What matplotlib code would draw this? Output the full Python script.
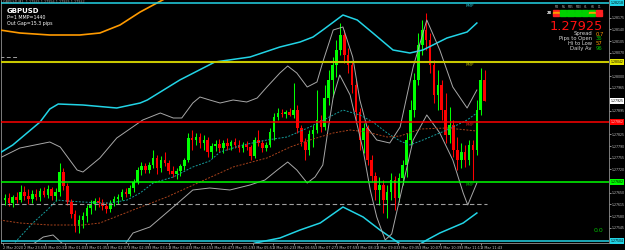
import matplotlib
matplotlib.use("Agg")
import matplotlib.pyplot as plt
import matplotlib.transforms as mtransforms
import numpy as np

# ---------------- data ----------------
symbol = "GBPUSD"
bar_minutes = 6            # candles aggregated to 6 minutes, first bar at 2 Mar 23:27
time_label_step = 32       # minutes between time labels
time_labels = ["2 Mar 2020", "2 Mar 23:59", "3 Mar 00:31", "3 Mar 01:03", "3 Mar 01:35",
               "3 Mar 02:07", "3 Mar 02:39", "3 Mar 03:11", "3 Mar 03:43", "3 Mar 04:15",
               "3 Mar 04:47", "3 Mar 05:19", "3 Mar 05:51", "3 Mar 06:23", "3 Mar 06:55",
               "3 Mar 07:27", "3 Mar 07:59", "3 Mar 08:31", "3 Mar 09:03", "3 Mar 09:35",
               "3 Mar 10:07", "3 Mar 10:39", "3 Mar 11:11", "3 Mar 11:43"]

opens = [1.27628, 1.27634, 1.27619, 1.27637, 1.27628, 1.27652, 1.27640, 1.27631, 1.27646, 1.27637,
         1.27655, 1.27643, 1.27661, 1.27640, 1.27652, 1.27712, 1.27670, 1.27622, 1.27586, 1.27550,
         1.27568, 1.27580, 1.27604, 1.27616, 1.27625, 1.27619, 1.27610, 1.27601, 1.27619, 1.27631,
         1.27637, 1.27652, 1.27646, 1.27664, 1.27682, 1.27718, 1.27730, 1.27718, 1.27733, 1.27754,
         1.27724, 1.27748, 1.27739, 1.27715, 1.27706, 1.27715, 1.27730, 1.27748, 1.27814, 1.27808,
         1.27817, 1.27799, 1.27808, 1.27772, 1.27790, 1.27796, 1.27784, 1.27799, 1.27790, 1.27802,
         1.27793, 1.27784, 1.27793, 1.27787, 1.27760, 1.27808, 1.27799, 1.27784, 1.27793, 1.27832,
         1.27877, 1.27889, 1.27886, 1.27892, 1.27883, 1.27898, 1.27844, 1.27802, 1.27778, 1.27826,
         1.27838, 1.27868, 1.27847, 1.27934, 1.27988, 1.28033, 1.28078, 1.28123, 1.28063, 1.28033,
         1.27973, 1.27892, 1.27808, 1.27844, 1.27748, 1.27700, 1.27658, 1.27673, 1.27628, 1.27652,
         1.27688, 1.27634, 1.27694, 1.27733, 1.27808, 1.27898, 1.27988, 1.28093, 1.28138, 1.28108,
         1.28033, 1.27943, 1.27973, 1.27898, 1.27823, 1.27853, 1.27778, 1.27748, 1.27772, 1.27748,
         1.27793, 1.27778, 1.27898, 1.27988]
highs = [1.27646, 1.27649, 1.27643, 1.27652, 1.27673, 1.27670, 1.27661, 1.27658, 1.27661, 1.27664,
         1.27667, 1.27673, 1.27667, 1.27664, 1.27739, 1.27724, 1.27679, 1.27631, 1.27598, 1.27583,
         1.27592, 1.27613, 1.27628, 1.27634, 1.27637, 1.27631, 1.27622, 1.27628, 1.27640, 1.27646,
         1.27661, 1.27664, 1.27673, 1.27691, 1.27727, 1.27742, 1.27739, 1.27742, 1.27778, 1.27763,
         1.27760, 1.27772, 1.27748, 1.27730, 1.27724, 1.27736, 1.27754, 1.27829, 1.27838, 1.27829,
         1.27829, 1.27823, 1.27817, 1.27799, 1.27808, 1.27811, 1.27808, 1.27814, 1.27808, 1.27814,
         1.27808, 1.27802, 1.27805, 1.27793, 1.27817, 1.27838, 1.27808, 1.27802, 1.27844, 1.27889,
         1.27904, 1.27901, 1.27898, 1.27904, 1.27979, 1.27913, 1.27853, 1.27814, 1.27838, 1.27853,
         1.27958, 1.27883, 1.27973, 1.28018, 1.28057, 1.28108, 1.28159, 1.28138, 1.28084, 1.28042,
         1.27988, 1.27904, 1.27859, 1.27853, 1.27763, 1.27712, 1.27697, 1.27688, 1.27673, 1.27709,
         1.27700, 1.27709, 1.27748, 1.27829, 1.27928, 1.28009, 1.28129, 1.28168, 1.28189, 1.28129,
         1.28048, 1.28018, 1.27988, 1.27949, 1.27907, 1.27868, 1.27817, 1.27799, 1.27793, 1.27808,
         1.27808, 1.27928, 1.28024, 1.28018]
lows = [1.27613, 1.27610, 1.27607, 1.27619, 1.27622, 1.27628, 1.27616, 1.27619, 1.27628, 1.27625,
        1.27637, 1.27634, 1.27628, 1.27625, 1.27640, 1.27658, 1.27613, 1.27574, 1.27532, 1.27529,
        1.27544, 1.27562, 1.27586, 1.27598, 1.27607, 1.27598, 1.27589, 1.27592, 1.27610, 1.27616,
        1.27628, 1.27637, 1.27640, 1.27652, 1.27676, 1.27703, 1.27709, 1.27709, 1.27724, 1.27706,
        1.27712, 1.27730, 1.27706, 1.27697, 1.27691, 1.27700, 1.27718, 1.27742, 1.27778, 1.27793,
        1.27784, 1.27778, 1.27757, 1.27754, 1.27775, 1.27772, 1.27769, 1.27778, 1.27778, 1.27784,
        1.27772, 1.27772, 1.27778, 1.27748, 1.27754, 1.27790, 1.27772, 1.27775, 1.27787, 1.27808,
        1.27868, 1.27877, 1.27874, 1.27880, 1.27874, 1.27829, 1.27790, 1.27748, 1.27763, 1.27787,
        1.27829, 1.27832, 1.27838, 1.27913, 1.27937, 1.27997, 1.28063, 1.28039, 1.28009, 1.27949,
        1.27868, 1.27778, 1.27769, 1.27733, 1.27682, 1.27628, 1.27613, 1.27589, 1.27574, 1.27628,
        1.27598, 1.27622, 1.27673, 1.27697, 1.27793, 1.27877, 1.27973, 1.28063, 1.28078, 1.28009,
        1.27919, 1.27898, 1.27868, 1.27799, 1.27799, 1.27757, 1.27718, 1.27724, 1.27727, 1.27733,
        1.27688, 1.27763, 1.27883, 1.27925]
closes = [1.27634, 1.27619, 1.27637, 1.27628, 1.27652, 1.27640, 1.27631, 1.27646, 1.27637, 1.27655,
          1.27643, 1.27661, 1.27640, 1.27652, 1.27712, 1.27670, 1.27622, 1.27586, 1.27550, 1.27568,
          1.27580, 1.27604, 1.27616, 1.27625, 1.27619, 1.27610, 1.27601, 1.27619, 1.27631, 1.27637,
          1.27652, 1.27646, 1.27664, 1.27682, 1.27718, 1.27730, 1.27718, 1.27733, 1.27754, 1.27724,
          1.27748, 1.27739, 1.27715, 1.27706, 1.27715, 1.27730, 1.27748, 1.27814, 1.27808, 1.27817,
          1.27799, 1.27808, 1.27772, 1.27790, 1.27796, 1.27784, 1.27799, 1.27790, 1.27802, 1.27793,
          1.27784, 1.27793, 1.27787, 1.27760, 1.27808, 1.27799, 1.27784, 1.27793, 1.27832, 1.27877,
          1.27889, 1.27886, 1.27892, 1.27883, 1.27898, 1.27844, 1.27802, 1.27778, 1.27826, 1.27838,
          1.27868, 1.27847, 1.27934, 1.27988, 1.28033, 1.28078, 1.28123, 1.28063, 1.28033, 1.27973,
          1.27892, 1.27808, 1.27844, 1.27748, 1.27700, 1.27658, 1.27673, 1.27628, 1.27652, 1.27688,
          1.27634, 1.27694, 1.27733, 1.27808, 1.27898, 1.27988, 1.28093, 1.28138, 1.28108, 1.28033,
          1.27943, 1.27973, 1.27898, 1.27823, 1.27853, 1.27778, 1.27748, 1.27772, 1.27748, 1.27793,
          1.27778, 1.27898, 1.27988, 1.27925]

# indicator lines: minutes since first bar, price
orange_t = [-5, 26, 72, 118, 149, 180, 211, 234, 257]
orange_p = [1.28138, 1.28129, 1.28123, 1.28123, 1.28129, 1.28153, 1.28192, 1.28216, 1.28240]

env_up_t = [-5, 15, 57, 72, 85, 123, 175, 211, 222, 272, 326, 380, 426, 457, 477, 492, 523,
            545, 569, 600, 626, 646, 683, 714, 729]
env_up_p = [1.27769, 1.27793, 1.27862, 1.27901, 1.27916, 1.27913, 1.27904, 1.27919, 1.27928,
            1.27988, 1.28042, 1.28057, 1.28087, 1.28102, 1.28117, 1.28138, 1.28183, 1.28168,
            1.28129, 1.28078, 1.28069, 1.28078, 1.28114, 1.28132, 1.28159]
env_dn_t = [365, 388, 426, 457, 488, 523, 554, 580, 600, 618, 634, 652, 672, 708, 729]
env_dn_p = [1.27484, 1.27499, 1.27514, 1.27538, 1.27559, 1.27607, 1.27577, 1.27538, 1.27511,
            1.27487, 1.27487, 1.27508, 1.27529, 1.27559, 1.27589]

band_up_t = [-5, 26, 72, 88, 114, 123, 149, 175, 215, 242, 262, 275, 292, 303, 318, 334, 354,
             375, 391, 406, 426, 438, 452, 468, 483, 492, 508, 523, 538, 549, 560, 575, 595,
             611, 631, 652, 672, 692, 714, 729]
band_up_p = [1.27754, 1.27784, 1.27802, 1.27787, 1.27718, 1.27712, 1.27754, 1.27814, 1.27868,
             1.27889, 1.27874, 1.27874, 1.27919, 1.27937, 1.27928, 1.27919, 1.27928, 1.27922,
             1.27934, 1.27967, 1.28009, 1.28030, 1.28009, 1.27967, 1.27982, 1.28042, 1.28138,
             1.28147, 1.28057, 1.27928, 1.27847, 1.27808, 1.27799, 1.27847, 1.28027, 1.28168,
             1.28078, 1.27967, 1.27904, 1.27958]
band_dn_t = [-5, 42, 62, 77, 92, 126, 172, 188, 200, 226, 262, 292, 318, 349, 380, 403, 422,
             438, 452, 468, 480, 492, 500, 508, 518, 534, 554, 565, 575, 588, 598, 611, 631,
             652, 672, 692, 708, 715, 729]
band_dn_p = [1.27472, 1.27490, 1.27517, 1.27523, 1.27496, 1.27472, 1.27478, 1.27496, 1.27529,
             1.27547, 1.27607, 1.27658, 1.27664, 1.27658, 1.27673, 1.27688, 1.27718, 1.27742,
             1.27718, 1.27679, 1.27697, 1.27733, 1.27838, 1.27937, 1.28003, 1.27943, 1.27778,
             1.27658, 1.27577, 1.27508, 1.27526, 1.27637, 1.27808, 1.27883, 1.27829, 1.27748,
             1.27649, 1.27613, 1.27679]

ma_fast_t = [15, 26, 46, 68, 83, 98, 149, 165, 191, 211, 231, 262, 292, 318, 334, 369, 406,
             437, 472, 508, 523, 549, 569, 591, 611, 626, 646, 683, 714, 729]
ma_fast_p = [1.27493, 1.27517, 1.27559, 1.27598, 1.27628, 1.27625, 1.27619, 1.27619, 1.27628,
             1.27649, 1.27679, 1.27697, 1.27727, 1.27745, 1.27772, 1.27793, 1.27808, 1.27817,
             1.27847, 1.27883, 1.27898, 1.27883, 1.27862, 1.27829, 1.27805, 1.27793, 1.27808,
             1.27838, 1.27868, 1.27889]
ma_slow_t = [-5, 26, 72, 123, 149, 200, 252, 303, 354, 406, 442, 472, 508, 534, 560, 591, 611,
             642, 683, 729]
ma_slow_p = [1.27568, 1.27559, 1.27553, 1.27553, 1.27559, 1.27598, 1.27637, 1.27682, 1.27727,
             1.27754, 1.27787, 1.27808, 1.27829, 1.27838, 1.27832, 1.27817, 1.27820, 1.27841,
             1.27844, 1.27835]

level_top = 1.28218      # cyan
level_r = 1.28042        # yellow
level_pivot = 1.27862    # red
level_s = 1.27682        # green
level_bottom = 1.27504   # cyan
level_dash = 1.27616     # grey dashed
level_dash_end = 745
short_dash_price = 1.28057
bid = 1.27925

panel_labels = ["Spread", "Pips to Open", "Hi to Low", "Daily Av"]
panel_values = ["0.7", "36", "57", "96"]
panel_value_colors = ["#ff9900", "#00c800", "#ff9900", "#00c800"]
tf_names = ["M1", "M5", "M15", "M30", "H1", "H4", "D1"]
tf_colors = [["#ff2020", "#ff9900", "#ff2020"], ["#00d000"] * 3, ["#00d000"] * 3,
             ["#00d000"] * 3, ["#00d000"] * 3, ["#00d000", "#ff9900", "#00d000"],
             ["#ff2020"] * 3]

# ---------------- figure ----------------
W, H = 625, 250
fig = plt.figure(figsize=(W / 100, H / 100), dpi=100, facecolor="black")
ax_left, ax_right, ax_bottom = 1, 609, 243
ax = fig.add_axes([ax_left / W, (H - ax_bottom) / H, (ax_right - ax_left) / W, ax_bottom / H])
ax.set_facecolor("black")
px_per_min = 0.65
x0_px = 3
ax.set_xlim((ax_left - x0_px) / px_per_min, (ax_right - x0_px) / px_per_min)
ax.set_ylim(1.27499, 1.28228)

opens_a, highs_a, lows_a, closes_a = map(np.array, (opens, highs, lows, closes))
xc = np.arange(len(opens_a)) * bar_minutes + bar_minutes / 2
cols = np.where(closes_a >= opens_a, "#00ff00", "#ff0000")
ax.vlines(xc, lows_a, highs_a, colors=cols, linewidth=0.75, zorder=3)
ax.bar(xc, np.abs(closes_a - opens_a), bottom=np.minimum(opens_a, closes_a), width=4.0,
       color=cols, linewidth=0, zorder=3)

# indicators
ax.plot(orange_t, orange_p, color="#ff9a00", lw=1.2, zorder=4)
ax.plot(env_up_t, env_up_p, color="#22d4e6", lw=1.1, zorder=4)
ax.plot(env_dn_t, env_dn_p, color="#22d4e6", lw=1.1, zorder=4)
ax.plot(band_up_t, band_up_p, color="#a8a8a8", lw=0.7, zorder=4)
ax.plot(band_dn_t, band_dn_p, color="#a8a8a8", lw=0.7, zorder=4)
ax.plot(ma_fast_t, ma_fast_p, color="#169c9c", lw=0.7, ls=(0, (2, 1.5)), zorder=4)
ax.plot(ma_slow_t, ma_slow_p, color="#a8421c", lw=0.7, ls=(0, (2, 1.5)), zorder=4)

# horizontal levels
ax.axhline(level_top, color="#22d4e6", lw=1.1, zorder=5)
ax.axhline(level_bottom, color="#22d4e6", lw=1.1, zorder=5)
ax.axhline(level_r, color="#c8c800", lw=1.5, zorder=5)
ax.axhline(level_pivot, color="#ff0000", lw=1.1, zorder=5)
ax.axhline(level_s, color="#00ff00", lw=1.1, zorder=5)
ax.hlines(level_dash, -5, level_dash_end, color="#a0a0a0", lw=0.8, ls=(0, (4, 2.5)), zorder=4)
ax.hlines(short_dash_price, -5, 22, color="#a0a0a0", lw=0.7, ls=(0, (4, 2.5)), zorder=4)

pmp_t = 711
for lvl, c in [(level_top, "#22b8c8"), (level_r, "#a8a800"), (level_pivot, "#c02020"),
               (level_s, "#00b000")]:
    ax.text(pmp_t, lvl - 0.00003, "PMP", color=c, fontsize=3.0, ha="left", va="top", zorder=6)

# price boxes shown on the right axis
box_levels = [(level_top, "#22d4e6", "black"), (level_r, "#e6e600", "black"),
              (bid, "white", "black"), (level_pivot, "#ff0000", "#ffd0d0"),
              (level_s, "#00ff00", "black"), (level_bottom, "#22d4e6", "black")]
box_prices = np.array([b[0] for b in box_levels])

# axes styling
ax.yaxis.tick_right()
yt_all = 1.27510 + 0.00035 * np.arange(21)
yt = [v for v in yt_all if np.min(np.abs(box_prices - v)) > 0.00016]
ax.set_yticks(yt)
ax.set_yticklabels([f"{v:.5f}" for v in yt])
ax.set_xticks(np.arange(len(time_labels)) * time_label_step)
ax.set_xticklabels(time_labels)
ax.tick_params(axis="y", colors="#c8c8c8", labelsize=2.25, length=1.2, width=0.5, pad=0.5)
ax.tick_params(axis="x", colors="#c8c8c8", labelsize=2.5, length=1.5, width=0.5, pad=0.5)
for lbl in ax.get_xticklabels():
    lbl.set_horizontalalignment("left")
for s in ["left", "right", "bottom"]:
    ax.spines[s].set_color("#909090")
    ax.spines[s].set_linewidth(0.6)
ax.spines["top"].set_visible(False)

tr = mtransforms.blended_transform_factory(ax.transAxes, ax.transData)
for lvl, bg, fg in box_levels:
    ax.text(1.0025, lvl, f"{lvl:.5f}", transform=tr, fontsize=2.25, color=fg, ha="left",
            va="center", zorder=10, clip_on=False,
            bbox=dict(boxstyle="square,pad=0.3", fc=bg, ec="none"))

# top-left texts
def ftxt(x, y, s, **kw):
    fig.text(x / W, 1 - y / H, s, **kw)

ftxt(3, 2.2, "GBPUSD,M1  1.27935 1.27956 1.27925 1.27932", color="#a0a0a0", fontsize=2.4,
     va="center")
ftxt(7, 11, symbol, color="white", fontsize=5.0, fontweight="bold", va="center")
ftxt(7, 17.5, "P=1 MMP=1440", color="white", fontsize=3.4, va="center")
ftxt(7, 23.2, "Out Gap=15.3 pips", color="white", fontsize=3.4, va="center")

# top-right panel
col_x0, col_w = 553, 7.2
for j, name in enumerate(tf_names):
    cx = col_x0 + j * col_w
    ftxt(cx + col_w / 2, 6.8, name, color="#b0b0b0", fontsize=2.0, ha="center", va="center")
    for r, c in enumerate(tf_colors[j]):
        fig.patches.append(plt.Rectangle((cx / W, 1 - (11.2 + 2.4 * r) / H), (col_w - 1) / W,
                                         1.6 / H, transform=fig.transFigure, color=c))
ftxt(549, 12.5, "28", color="white", fontsize=2.6, ha="center", va="center", fontweight="bold")
ftxt(603, 30, f"{bid:.5f}", color="#ff1010", fontsize=9.3, ha="right", va="baseline")
for k, (lab, val, vc) in enumerate(zip(panel_labels, panel_values, panel_value_colors)):
    yy = 34 + 4.7 * k
    ftxt(592, yy, lab, color="#d8d8d8", fontsize=3.8, ha="right", va="center")
    ftxt(596, yy, val, color=vc, fontsize=3.8, ha="left", va="center")
ftxt(598, 231, "0.0", color="#00c000", fontsize=4.5, ha="center", va="center")

fig.savefig("out.png", dpi=100, facecolor="black")
